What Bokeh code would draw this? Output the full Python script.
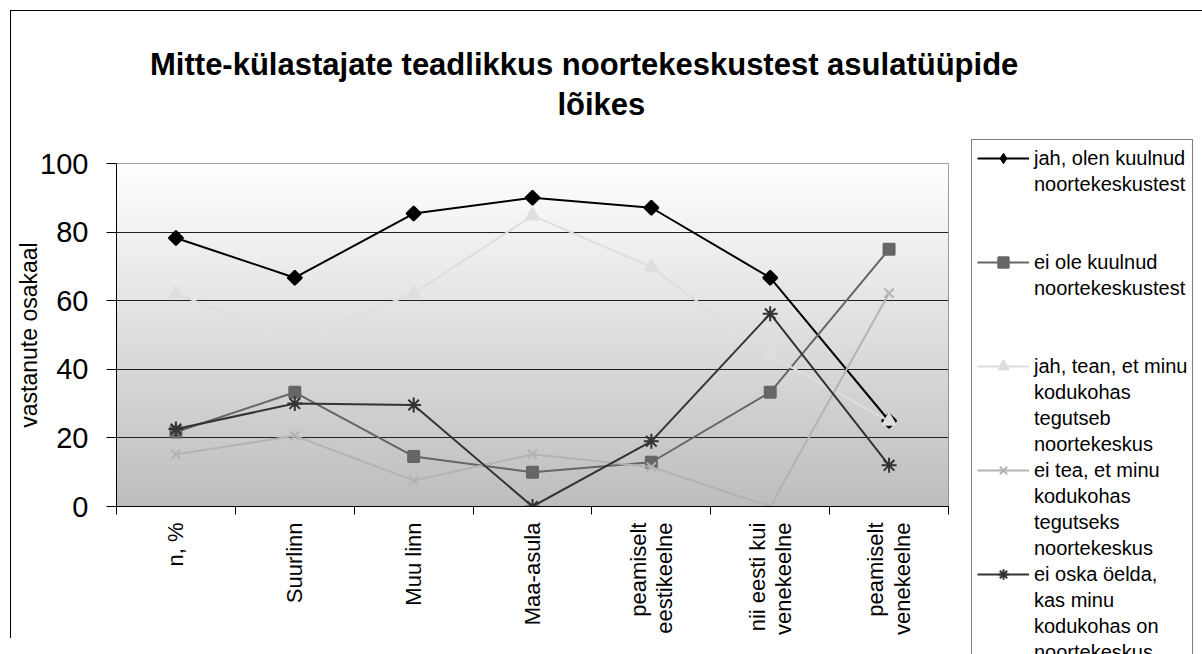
import math
import numpy as np
from bokeh.plotting import figure
from bokeh.models import Range1d, FixedTicker, Legend, LegendItem, Title
from bokeh.embed import file_html
from bokeh.resources import INLINE

categories = ["n, %", "Suurlinn", "Muu linn", "Maa-asula",
              "peamiselt\neestikeelne", "nii eesti kui\nvenekeelne",
              "peamiselt\nvenekeelne"]
jah_kuulnud = [78.3, 66.7, 85.4, 90.0, 87.1, 66.7, 25.0]
ei_kuulnud = [21.7, 33.3, 14.6, 10.0, 12.9, 33.3, 75.0]
jah_tean = [62.1, 48.5, 62.1, 84.8, 69.8, 44.0, 24.9]
ei_tea = [15.2, 20.6, 7.6, 15.2, 11.5, 0.0, 62.2]
ei_oska = [22.6, 30.0, 29.6, 0.0, 19.0, 56.2, 12.0]
series_labels = [
    ["jah, olen kuulnud", "noortekeskustest", " ", " "],
    ["ei ole kuulnud", "noortekeskustest", " ", " "],
    ["jah, tean, et minu", "kodukohas", "tegutseb", "noortekeskus"],
    ["ei tea, et minu", "kodukohas", "tegutseks", "noortekeskus"],
    ["ei oska öelda,", "kas minu", "kodukohas on", "noortekeskus"],
]
title_line1 = "Mitte-külastajate teadlikkus noortekeskustest asulatüüpide"
title_line2 = "lõikes"
y_label = "vastanute osakaal"
y_ticks = [0, 20, 40, 60, 80, 100]

FONT = "Liberation Sans"
NB = "\u00a0"
n = len(categories)
xs = list(np.arange(n) + 0.5)

p = figure(width=1186, height=638, frame_width=832, frame_height=343,
           output_backend="svg", toolbar_location=None,
           x_range=Range1d(0, n), y_range=Range1d(0, 100),
           min_border_left=116, min_border_right=238, min_border_top=163,
           min_border_bottom=132)
p.styles = {
    "background-image": "linear-gradient(#000,#000), linear-gradient(#000,#000)",
    "background-size": "1px 100%, 100% 1px",
    "background-position": "10px 10px, 10px 10px",
    "background-repeat": "no-repeat",
}
p.outline_line_color = "#808080"
p.background_fill_color = "white"
p.border_fill_alpha = 0

# gradient background of the plotting area
N = 343
img = np.empty((N, 1), dtype=np.uint32)
view = img.view(dtype=np.uint8).reshape((N, 1, 4))
t = np.linspace(0, 1, N)
g = (190 + 65 * t).astype(np.uint8)
view[:, 0, 0] = g
view[:, 0, 1] = g
view[:, 0, 2] = g
view[:, 0, 3] = 255
bg = p.image_rgba(image=[img], x=0, y=0, dw=n, dh=100)
bg.level = "image"

p.xgrid.visible = False
p.ygrid.grid_line_color = "#202020"
p.ygrid.grid_line_width = 1
p.ygrid.ticker = FixedTicker(ticks=y_ticks)

# x axis
xa = p.xaxis[0]
xa.ticker = FixedTicker(ticks=xs, minor_ticks=list(range(n + 1)))
xa.major_label_overrides = {x: c for x, c in zip(xs, categories)}
xa.major_tick_out = 0
xa.major_tick_in = 0
xa.minor_tick_out = 8
xa.minor_tick_in = 0
xa.minor_tick_line_color = "black"
xa.axis_line_color = "black"
xa.major_label_orientation = math.pi / 2
xa.major_label_text_font = FONT
xa.major_label_text_font_size = "22px"
xa.major_label_text_color = "black"
xa.major_label_standoff = 8
xa.major_label_text_line_height = 1.05

# y axis
ya = p.yaxis[0]
ya.ticker = FixedTicker(ticks=y_ticks)
ya.major_tick_out = 10
ya.major_tick_in = 0
ya.minor_tick_out = 0
ya.minor_tick_in = 0
ya.axis_line_color = "black"
ya.major_label_text_font = FONT
ya.major_label_text_font_size = "29px"
ya.major_label_text_color = "black"
ya.major_label_standoff = 18
ya.axis_label = y_label
ya.axis_label_text_font = FONT
ya.axis_label_text_font_size = "23px"
ya.axis_label_text_font_style = "normal"
ya.axis_label_text_color = "black"
ya.axis_label_standoff = -5

styles = [
    dict(color="#000000", marker="square", size=10, angle=math.pi / 4, lmarker="diamond"),
    dict(color="#666666", marker="square", size=11, angle=0, lmarker=None),
    dict(color="#dedede", marker="triangle", size=13, angle=0, lmarker=None),
    dict(color="#b3b3b3", marker="x", size=13, angle=0, lmarker=None),
    dict(color="#333333", marker="asterisk", size=15, angle=0, lmarker=None),
]
data = [jah_kuulnud, ei_kuulnud, jah_tean, ei_tea, ei_oska]
items = []
for vals, st, labs in zip(data, styles, series_labels):
    lr = p.line(xs, vals, line_color=st["color"], line_width=2)
    sr = p.scatter(xs, vals, marker=st["marker"], size=st["size"], angle=st["angle"],
                   fill_color=st["color"], line_color=st["color"], line_width=2)
    if st["lmarker"]:
        # zero-size copy: invisible in the plot, gives the legend its diamond
        sr = p.scatter(xs, vals, marker=st["lmarker"], size=0,
                       fill_color=st["color"], line_color=st["color"], line_width=1)
    items.append(LegendItem(label=labs[0], renderers=[lr, sr]))
    for extra in labs[1:]:
        items.append(LegendItem(label=extra, renderers=[]))

legend = Legend(items=items, location=(23, -165))
legend.ncols = 1
legend.border_line_color = "black"
legend.border_line_width = 1
legend.background_fill_color = "white"
legend.background_fill_alpha = 1
legend.padding = 5
legend.spacing = 0
legend.margin = 8
legend.glyph_width = 52
legend.glyph_height = 26
legend.label_height = 26
legend.label_standoff = 5
legend.label_text_font = FONT
legend.label_text_font_size = "20px"
legend.label_text_color = "black"
p.add_layout(legend, "right")

# two-line title (outermost: p.title), shifted right of the plot-area centre
title_kw = dict(align="center", text_font=FONT, text_font_size="31px",
                text_font_style="bold", text_color="black")
spacer = Title(text=NB, standoff=3, **title_kw)
p.add_layout(spacer, "above")
t2 = Title(text=NB * 16 + title_line2, standoff=3, **title_kw)
p.add_layout(t2, "above")
p.title.text = NB * 12 + title_line1
p.title.align = "center"
p.title.text_font = FONT
p.title.text_font_size = "31px"
p.title.text_font_style = "bold"
p.title.text_color = "black"
p.title.standoff = 3

open("out.html", "w").write(file_html(p, INLINE))
